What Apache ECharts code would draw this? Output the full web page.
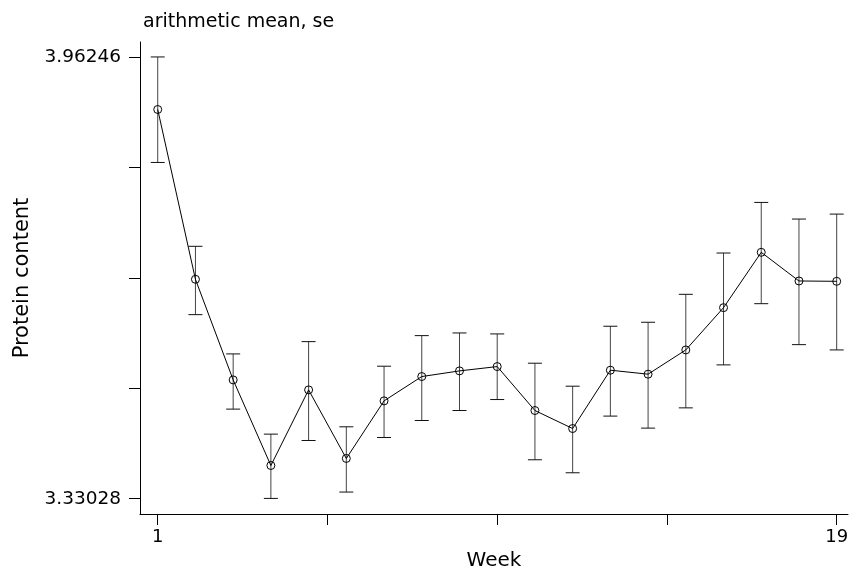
<!DOCTYPE html>
<html>
<head>
<meta charset="utf-8">
<script src="https://cdn.jsdelivr.net/npm/echarts@6/dist/echarts.min.js"></script>
<style>
  html, body { margin: 0; padding: 0; background: #fff; }
  #main { width: 853px; height: 568px; }
</style>
</head>
<body>
<div id="main"></div>
<script>
// data
var weeks = [1, 2, 3, 4, 5, 6, 7, 8, 9, 10, 11, 12, 13, 14, 15, 16, 17, 18, 19];
var meanVals = [3.8873, 3.6443, 3.5003, 3.3778, 3.4860, 3.3879, 3.4703, 3.5051, 3.5132, 3.5194,
                3.4565, 3.4307, 3.5142, 3.5085, 3.5432, 3.6037, 3.6829, 3.6419, 3.6414];
var lowerVals = [3.8115, 3.5937, 3.4585, 3.3307, 3.4136, 3.3398, 3.4179, 3.4422, 3.4565, 3.4722,
                 3.3860, 3.3674, 3.4485, 3.4313, 3.4603, 3.5218, 3.6094, 3.5508, 3.5432];
var upperVals = [3.9625, 3.6915, 3.5375, 3.4227, 3.5551, 3.4332, 3.5199, 3.5637, 3.5675, 3.5661,
                 3.5242, 3.4913, 3.5771, 3.5828, 3.6228, 3.6819, 3.7543, 3.7305, 3.7376];

var xTicks = [1, 5.5, 10, 14.5, 19];
var xLabels = [1, 19];
var yTicks = [3.33028, 3.488325, 3.64637, 3.804415, 3.96246];
var yLabels = [3.33028, 3.96246];

var chart = echarts.init(document.getElementById('main'), null, { renderer: 'canvas' });

var FONT = 'DejaVu Sans';

// vertical se bar with caps
function renderBar(params, api) {
  var x = api.value(0);
  var lo = api.coord([x, api.value(1)]);
  var hi = api.coord([x, api.value(2)]);
  var hw = 7;
  var bar = { stroke: '#444', lineWidth: 1 };
  var cap = { stroke: '#111', lineWidth: 1 };
  return {
    type: 'group',
    children: [
      { type: 'line', shape: { x1: hi[0], y1: hi[1], x2: lo[0], y2: lo[1] }, style: bar },
      { type: 'line', shape: { x1: hi[0] - hw, y1: hi[1], x2: hi[0] + hw, y2: hi[1] }, style: cap },
      { type: 'line', shape: { x1: lo[0] - hw, y1: lo[1], x2: lo[0] + hw, y2: lo[1] }, style: cap }
    ]
  };
}

var option = {
  backgroundColor: '#fff',
  animation: false,
  title: {
    text: 'arithmetic mean, se',
    left: 138,
    top: 8,
    textStyle: { fontFamily: FONT, fontSize: 19, fontWeight: 'normal', color: '#000' }
  },
  grid: { left: 140, right: 5, top: 42, bottom: 54, containLabel: false, outerBoundsMode: 'none' },
  xAxis: {
    type: 'value',
    min: 0.53,
    max: 19.3,
    name: 'Week',
    nameLocation: 'middle',
    nameGap: 29,
    nameTextStyle: { fontFamily: FONT, fontSize: 20, color: '#000' },
    axisLine: { onZero: false, lineStyle: { color: '#000', width: 1 } },
    axisTick: { customValues: xTicks, length: 11, lineStyle: { color: '#000' } },
    axisLabel: {
      customValues: xLabels,
      margin: 14,
      fontFamily: FONT, fontSize: 18, color: '#000'
    },
    splitLine: { show: false }
  },
  yAxis: {
    type: 'value',
    min: 3.3084,
    max: 3.9839,
    name: 'Protein content',
    nameLocation: 'middle',
    nameGap: 107,
    nameTextStyle: { fontFamily: FONT, fontSize: 21, color: '#000' },
    axisLine: { show: true, lineStyle: { color: '#000', width: 1 } },
    axisTick: { show: true, customValues: yTicks, length: 11, lineStyle: { color: '#000' } },
    axisLabel: {
      customValues: yLabels,
      margin: 19,
      fontFamily: FONT, fontSize: 18.5, color: '#000',
      formatter: function (v) { return v.toFixed(5); }
    },
    splitLine: { show: false }
  },
  series: [
    {
      type: 'custom',
      renderItem: renderBar,
      encode: { x: 0, y: [1, 2] },
      data: weeks.map(function (w, i) { return [w, lowerVals[i], upperVals[i]]; }),
      z: 1
    },
    {
      type: 'line',
      data: weeks.map(function (w, i) { return [w, meanVals[i]]; }),
      symbol: 'circle',
      symbolSize: 8,
      showAllSymbol: true,
      lineStyle: { color: '#000', width: 1 },
      itemStyle: { color: 'rgba(0,0,0,0)', borderColor: '#000', borderWidth: 1 },
      z: 2
    }
  ]
};

chart.setOption(option);
</script>
</body>
</html>
